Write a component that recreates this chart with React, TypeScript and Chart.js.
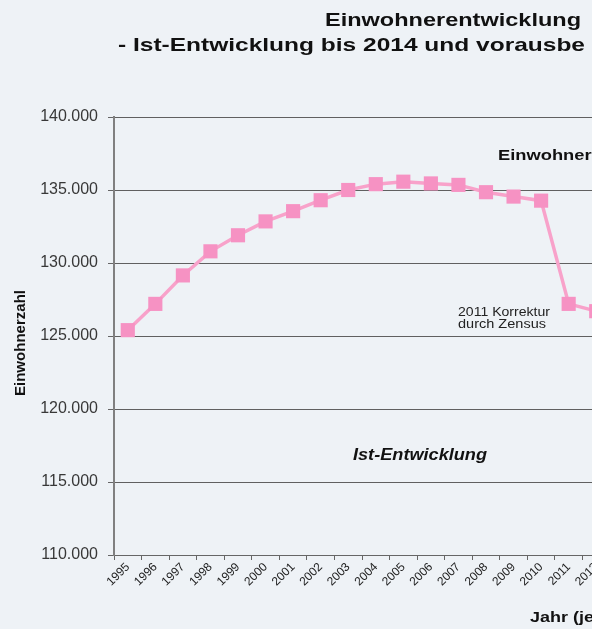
import React, { useEffect, useRef } from "react";
import { Chart, registerables } from "chart.js";

Chart.register(...registerables);

// ---- data ----
const jahre = [
  "1995", "1996", "1997", "1998", "1999", "2000", "2001", "2002", "2003",
  "2004", "2005", "2006", "2007", "2008", "2009", "2010", "2011", "2012",
];
const einwohner = [
  125400, 127200, 129150, 130800, 131900, 132850, 133550, 134300, 135000,
  135400, 135570, 135450, 135350, 134850, 134550, 134270, 127200, 126700,
];
const yMin = 110000;
const yMax = 140000;
const yStep = 5000;

// ---- texts ----
const titel1 = "Einwohnerentwicklung";
const titel2 = "- Ist-Entwicklung bis 2014 und vorausbe";
const labelPrognose = "Einwohner";
const labelIst = "Ist-Entwicklung";
const labelZensus1 = "2011 Korrektur";
const labelZensus2 = "durch Zensus";
const yTitel = "Einwohnerzahl";
const xTitel = "Jahr (je";

const FONT = "'Liberation Sans', Arial, sans-serif";

const fmt = (v: number) =>
  String(Math.round(v)).replace(/\B(?=(\d{3})+(?!\d))/g, ".");

const textPlugin = {
  id: "textPlugin",
  afterDraw(chart: any) {
    const ctx: CanvasRenderingContext2D = chart.ctx;
    const put = (
      text: string,
      x: number,
      y: number,
      font: string,
      target: number | null,
      sx = 1,
      color = "#111",
      rot = 0,
      align: CanvasTextAlign = "left"
    ) => {
      ctx.save();
      ctx.font = font;
      ctx.fillStyle = color;
      ctx.textAlign = align;
      ctx.textBaseline = "alphabetic";
      const w = ctx.measureText(text).width;
      const s = target ? target / w : sx;
      ctx.translate(x, y);
      if (rot) ctx.rotate(rot);
      ctx.scale(s, 1);
      ctx.fillText(text, 0, 0);
      ctx.restore();
    };
    put(titel1, 325, 26, `bold 19px ${FONT}`, 256);
    put(titel2, 118, 51, `bold 19px ${FONT}`, 467);
    put(labelPrognose, 498, 160, `bold 15px ${FONT}`, null, 1.22);
    put(labelIst, 353, 460, `italic bold 16px ${FONT}`, 134);
    put(labelZensus1, 458, 316, `12px ${FONT}`, 92, 1, "#222");
    put(labelZensus2, 458, 328, `12px ${FONT}`, 88, 1, "#222");
    put(xTitel, 530, 622, `bold 15px ${FONT}`, null, 1.2);
    put(yTitel, 25, 343, `bold 15px ${FONT}`, 106, 1, "#111", -Math.PI / 2, "center");
  },
};

export default function App() {
  const ref = useRef<HTMLCanvasElement | null>(null);

  useEffect(() => {
    if (!ref.current) return;
    const chart = new Chart(ref.current, {
      type: "line",
      data: {
        labels: jahre,
        datasets: [
          {
            data: einwohner,
            borderColor: "#f8a2ca",
            backgroundColor: "#f692c3",
            borderWidth: 3.5,
            pointStyle: "rect",
            pointRadius: 10,
            pointBorderWidth: 0,
            pointBackgroundColor: "#f692c3",
            tension: 0,
            fill: false,
          },
        ],
      },
      options: {
        responsive: false,
        devicePixelRatio: 1,
        animation: false,
        layout: { padding: { top: 117, left: 0, right: 9, bottom: 0 } },
        plugins: {
          legend: { display: false },
          tooltip: { enabled: false },
          title: { display: false },
        },
        scales: {
          x: {
            type: "category",
            offset: true,
            grid: {
              offset: true,
              drawOnChartArea: false,
              drawTicks: true,
              tickLength: 5,
              tickColor: "#666",
            },
            border: { display: true, color: "#666", width: 1 },
            ticks: {
              autoSkip: false,
              maxRotation: 45,
              minRotation: 45,
              padding: 0,
              color: "#222",
              font: { family: FONT, size: 12 },
            },
            afterFit: (scale: any) => {
              scale.height = 74;
            },
          },
          y: {
            min: yMin,
            max: yMax,
            grid: {
              color: "#606060",
              lineWidth: 1,
              drawTicks: true,
              tickLength: 6,
              tickColor: "#666",
            },
            border: { display: true, color: "#808080", width: 2 },
            ticks: {
              stepSize: yStep,
              padding: 10,
              color: "#383838",
              font: { family: FONT, size: 16 },
              callback: (v: any) => fmt(Number(v)),
            },
            afterFit: (scale: any) => {
              scale.width = 114;
            },
          },
        },
      },
      plugins: [textPlugin],
    } as any);
    return () => chart.destroy();
  }, []);

  return (
    <div
      style={{
        position: "fixed",
        left: 0,
        top: 0,
        width: 592,
        height: 629,
        overflow: "hidden",
        background: "#eef2f6",
      }}
    >
      <canvas
        ref={ref}
        width={620}
        height={629}
        style={{ display: "block", width: 620, height: 629 }}
      />
    </div>
  );
}
